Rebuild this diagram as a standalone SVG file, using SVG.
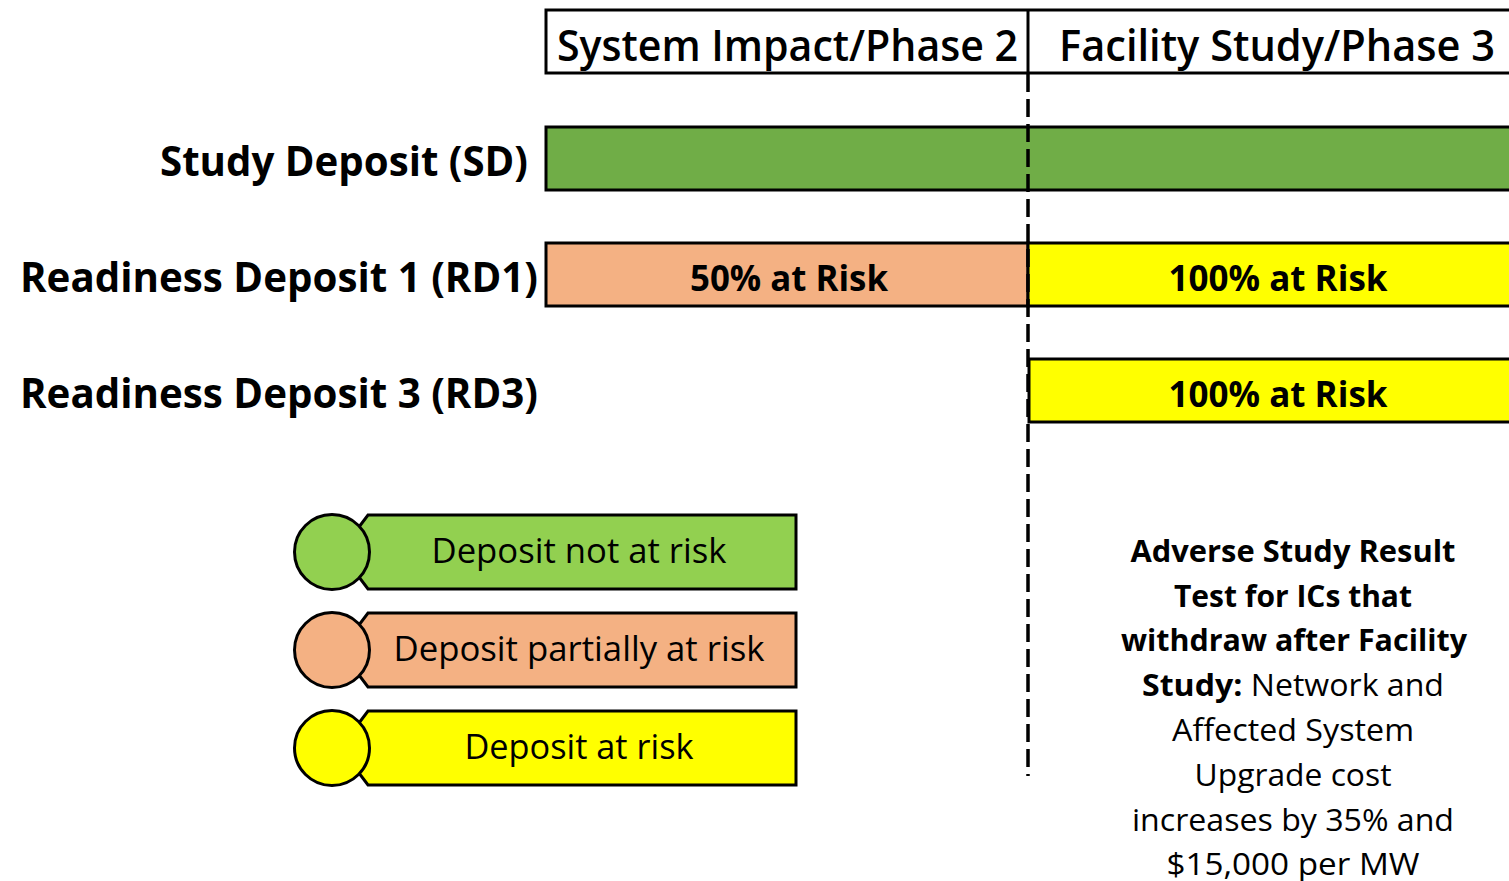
<svg xmlns="http://www.w3.org/2000/svg" width="1509" height="881" viewBox="0 0 1509 881">
<style>
.b{stroke:#000;stroke-width:3}
.t{font-family:"Open Sans","Noto Sans",sans-serif;fill:#000}
.bold{font-weight:bold}
.hd{font-size:44px;font-weight:600}
.lb{font-size:42px;font-weight:bold}
.bt{font-size:36px;font-weight:bold}
.lg{font-size:35px}
.rt{font-size:31px}
</style>
<rect width="1509" height="881" fill="#fff"/>
<g id="header">
<rect class="b" x="546" y="10" width="980" height="63" fill="#fff"/>
<line class="b" x1="1028" y1="10" x2="1028" y2="73"/>
<text class="t hd" x="557" y="61" textLength="461" lengthAdjust="spacingAndGlyphs">System Impact/Phase 2</text>
<text class="t hd" x="1059" y="61" textLength="436" lengthAdjust="spacingAndGlyphs">Facility Study/Phase 3</text>
</g>
<g id="sd">
<text class="t lb" x="528" y="176" text-anchor="end" textLength="368" lengthAdjust="spacingAndGlyphs">Study Deposit (SD)</text>
<rect class="b" x="546" y="127" width="980" height="63" fill="#70AD47"/>
</g>
<g id="rd1">
<text class="t lb" x="538" y="292" text-anchor="end" textLength="518" lengthAdjust="spacingAndGlyphs">Readiness Deposit 1 (RD1)</text>
<rect class="b" x="546" y="243" width="482" height="63" fill="#F4B183"/>
<rect class="b" x="1028" y="243" width="498" height="63" fill="#FFFF00"/>
<text class="t bt" x="789" y="291" text-anchor="middle" textLength="198" lengthAdjust="spacingAndGlyphs">50% at Risk</text>
<text class="t bt" x="1278" y="291" text-anchor="middle" textLength="219" lengthAdjust="spacingAndGlyphs">100% at Risk</text>
</g>
<g id="rd3">
<text class="t lb" x="538" y="408" text-anchor="end" textLength="518" lengthAdjust="spacingAndGlyphs">Readiness Deposit 3 (RD3)</text>
<rect class="b" x="1029" y="359" width="497" height="63" fill="#FFFF00"/>
<text class="t bt" x="1278" y="407" text-anchor="middle" textLength="219" lengthAdjust="spacingAndGlyphs">100% at Risk</text>
</g>
<g id="connectors">
<line x1="1028" y1="74" x2="1028" y2="776" stroke="#000" stroke-width="3.5" stroke-dasharray="18 7"/>
</g>
<g id="legend-not">
<path class="b" d="M368 515 H796 V589 H368 L340 552 Z" fill="#92D050"/>
<circle class="b" cx="332" cy="552" r="37.5" fill="#92D050"/>
<text class="t lg" x="579" y="563" text-anchor="middle" textLength="295" lengthAdjust="spacingAndGlyphs">Deposit not at risk</text>
</g>
<g id="legend-partial">
<path class="b" d="M368 613 H796 V687 H368 L340 650 Z" fill="#F4B183"/>
<circle class="b" cx="332" cy="650" r="37.5" fill="#F4B183"/>
<text class="t lg" x="579" y="661" text-anchor="middle" textLength="371" lengthAdjust="spacingAndGlyphs">Deposit partially at risk</text>
</g>
<g id="legend-risk">
<path class="b" d="M368 711 H796 V785 H368 L340 748 Z" fill="#FFFF00"/>
<circle class="b" cx="332" cy="748" r="37.5" fill="#FFFF00"/>
<text class="t lg" x="579" y="759" text-anchor="middle" textLength="229" lengthAdjust="spacingAndGlyphs">Deposit at risk</text>
</g>
<g id="note">
<text class="t rt bold" x="1293" y="562" text-anchor="middle" textLength="325" lengthAdjust="spacingAndGlyphs">Adverse Study Result</text>
<text class="t rt bold" x="1293" y="607" text-anchor="middle" textLength="238" lengthAdjust="spacingAndGlyphs">Test for ICs that</text>
<text class="t rt bold" x="1294" y="651" text-anchor="middle" textLength="346" lengthAdjust="spacingAndGlyphs">withdraw after Facility</text>
<text class="t rt" x="1293" y="696" text-anchor="middle" textLength="302" lengthAdjust="spacingAndGlyphs"><tspan class="bold">Study:</tspan> Network and</text>
<text class="t rt" x="1293" y="741" text-anchor="middle" textLength="242" lengthAdjust="spacingAndGlyphs">Affected System</text>
<text class="t rt" x="1293" y="786" text-anchor="middle" textLength="197" lengthAdjust="spacingAndGlyphs">Upgrade cost</text>
<text class="t rt" x="1293" y="831" text-anchor="middle" textLength="322" lengthAdjust="spacingAndGlyphs">increases by 35% and</text>
<text class="t rt" x="1293" y="875" text-anchor="middle" textLength="253" lengthAdjust="spacingAndGlyphs">$15,000 per MW</text>
</g>
</svg>
